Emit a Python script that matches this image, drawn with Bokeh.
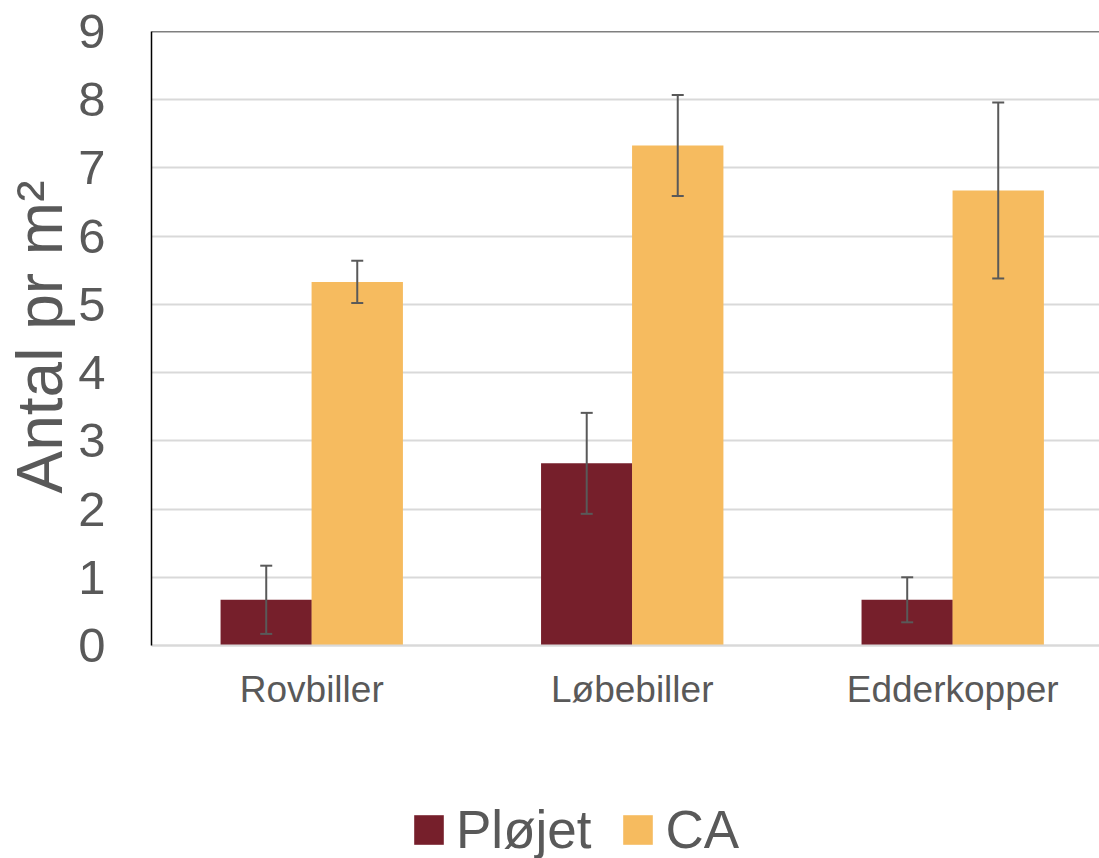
import numpy as np
from bokeh.plotting import figure
from bokeh.models import (ColumnDataSource, Range1d, FixedTicker, Whisker, TeeHead,
                          Legend, LegendItem, Span, Title)
from bokeh.embed import file_html
from bokeh.resources import INLINE

# ---- data ----
categories = ["Rovbiller", "Løbebiller", "Edderkopper"]
series_names = ["Pløjet", "CA"]
ploejet = [0.67, 2.67, 0.67]
ploejet_err = [0.50, 0.74, 0.33]
ca = [5.33, 7.33, 6.67]
ca_err = [0.31, 0.74, 1.29]
y_ticks = [0, 1, 2, 3, 4, 5, 6, 7, 8, 9]
y_label = "Antal pr m²"

FONT = "Liberation Sans"
TXT = "#595959"
C_PL = "#761f2b"
C_CA = "#f6bb5f"

idx = np.arange(len(categories))
off = 0.142
bw = 0.285

src_pl = ColumnDataSource(dict(x=idx - off, top=ploejet,
                               upper=[v + e for v, e in zip(ploejet, ploejet_err)],
                               lower=[v - e for v, e in zip(ploejet, ploejet_err)]))
src_ca = ColumnDataSource(dict(x=idx + off, top=ca,
                               upper=[v + e for v, e in zip(ca, ca_err)],
                               lower=[v - e for v, e in zip(ca, ca_err)]))

# frame spans from page y=31 to the bottom; value 0 sits at y=645
p = figure(width=1099, height=858, output_backend="svg", toolbar_location=None,
           x_range=Range1d(-0.5, 2.458), y_range=Range1d(-3.122, 9),
           min_border_left=151, min_border_right=0, min_border_top=31,
           min_border_bottom=0)
p.outline_line_color = None
p.background_fill_color = "white"
p.border_fill_color = "white"

r_pl = p.vbar(x="x", top="top", width=bw, bottom=0, source=src_pl,
              fill_color=C_PL, line_color=None)
r_ca = p.vbar(x="x", top="top", width=bw, bottom=0, source=src_ca,
              fill_color=C_CA, line_color=None)

for src in (src_pl, src_ca):
    w = Whisker(base="x", upper="upper", lower="lower", source=src,
                line_color=TXT, line_width=2, level="overlay",
                upper_head=TeeHead(size=12, line_color=TXT, line_width=2),
                lower_head=TeeHead(size=12, line_color=TXT, line_width=2))
    p.add_layout(w)

# top border line
p.add_layout(Span(location=9, dimension="width", line_color="black", line_width=1.5))

# grids
p.xgrid.visible = False
p.ygrid.ticker = FixedTicker(ticks=y_ticks)
p.ygrid.grid_line_color = "#d9d9d9"
p.ygrid.grid_line_width = 2

# y axis
p.yaxis.ticker = FixedTicker(ticks=y_ticks)
p.yaxis.bounds = (0, 9)
p.yaxis.axis_line_color = "black"
p.yaxis.axis_line_width = 1.5
p.yaxis.major_tick_line_color = None
p.yaxis.minor_tick_line_color = None
p.yaxis.major_label_text_font = FONT
p.yaxis.major_label_text_font_size = "49px"
p.yaxis.major_label_text_color = TXT
p.yaxis.major_label_standoff = 40

# y axis title, placed along the 0..9 span
p.add_layout(Title(text=y_label, align="left", offset=365,
                   text_font=FONT, text_font_size="64px",
                   text_font_style="normal", text_color=TXT, standoff=0), "left")

# x axis, fixed at value 0
p.xaxis.fixed_location = 0
p.xaxis.ticker = FixedTicker(ticks=list(idx))
p.xaxis.major_label_overrides = {int(i): c for i, c in zip(idx, categories)}
p.xaxis.axis_line_color = "#d9d9d9"
p.xaxis.axis_line_width = 2
p.xaxis.major_tick_line_color = None
p.xaxis.minor_tick_line_color = None
p.xaxis.major_label_text_font = FONT
p.xaxis.major_label_text_font_size = "37px"
p.xaxis.major_label_text_color = TXT
p.xaxis.major_label_standoff = 17

legend = Legend(items=[LegendItem(label=series_names[0], renderers=[r_pl]),
                       LegendItem(label=series_names[1], renderers=[r_ca])],
                orientation="horizontal", location=(259, -2),
                label_text_font=FONT, label_text_font_size="53px",
                label_text_color=TXT, glyph_width=37, glyph_height=37,
                label_standoff=9, spacing=28, padding=0, margin=0,
                border_line_color=None, background_fill_alpha=0)
p.add_layout(legend)

open("out.html", "w").write(file_html(p, INLINE))
